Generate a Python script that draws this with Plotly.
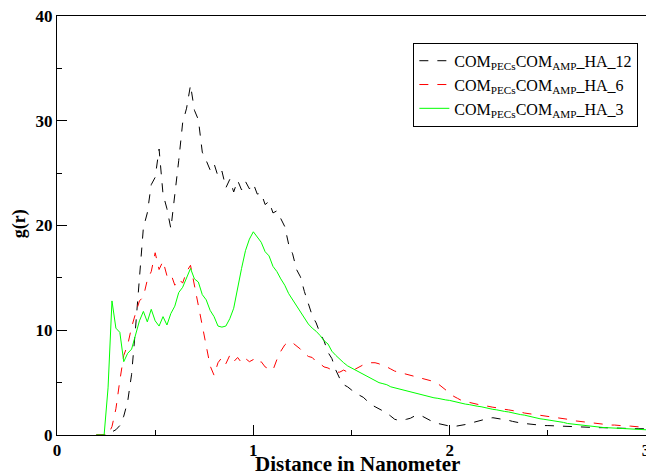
import plotly.graph_objects as go

# r grid (nm), 0.20 .. 3.00 step 0.02
r_nm = [round(0.20 + 0.02 * i, 2) for i in range(141)]

g_ha12 = [
    0, 0, 0, 0, 0.3, 0.5, 0.9, 1.8, 3.2, 5.8,
    10.2, 14.6, 19.8, 21.2, 23.9, 24.6, 27.3, 23.0, 21.6, 19.7,
    22.8, 26.2, 29.8, 31.2, 33.4, 31.0, 30.1, 27.0, 26.2, 25.3,
    25.9, 24.7, 25.2, 23.6, 24.4, 23.2, 24.3, 23.4, 24.2, 23.5,
    24.0, 23.0, 23.1, 22.0, 22.3, 21.2, 21.4, 20.6, 19.9, 18.2,
    17.3, 15.8, 15.1, 13.7, 12.6, 11.4, 10.7, 9.7, 9.0, 7.9,
    7.3, 6.2, 5.4, 4.8, 4.6, 4.3, 4.1, 3.8, 3.6, 3.2,
    2.9, 2.7, 2.5, 2.3, 2.1, 1.8, 1.5, 1.4, 1.4, 1.5,
    1.6, 1.8, 1.9, 1.8, 1.6, 1.4, 1.2, 1.1, 1.0, 0.9,
    0.85, 0.8, 0.85, 0.9, 1.0, 1.1, 1.2, 1.35, 1.45, 1.55,
    1.6, 1.65, 1.6, 1.55, 1.5, 1.4, 1.3, 1.2, 1.15, 1.1,
    1.05, 1.0, 0.95, 0.92, 0.9, 0.9, 0.88, 0.86, 0.85, 0.84,
    0.82, 0.8, 0.8, 0.78, 0.76, 0.75, 0.74, 0.72, 0.7, 0.7,
    0.68, 0.67, 0.66, 0.65, 0.64, 0.63, 0.62, 0.61, 0.6, 0.6,
    0.6,
]

g_ha6 = [
    0, 0, 0, 0, 0.8, 2.5, 5.2, 7.6, 8.6, 10.3,
    11.6, 12.8, 13.2, 14.8, 15.6, 17.4, 15.8, 16.6, 15.2, 15.4,
    14.3, 14.9, 14.5, 15.6, 16.2, 14.3, 12.6, 10.4, 8.6, 6.6,
    5.7, 6.9, 7.4, 6.8, 7.6, 7.0, 7.4, 6.9, 7.3, 7.0,
    7.2, 6.8, 7.0, 6.5, 6.3, 6.2, 7.2, 8.0, 8.6, 8.9,
    8.8, 8.5, 8.2, 7.8, 7.5, 7.4, 7.0, 6.8, 6.5, 6.4,
    6.2, 6.0, 6.0, 6.2, 6.0, 6.1, 6.3, 6.5, 6.7, 6.8,
    6.9, 6.9, 6.8, 6.6, 6.5, 6.3, 6.1, 6.0, 5.9, 5.8,
    5.7, 5.6, 5.5, 5.4, 5.3, 5.2, 5.1, 4.9, 4.6, 4.3,
    4.0, 3.7, 3.5, 3.3, 3.2, 3.1, 3.0, 2.9, 2.85, 2.8,
    2.7, 2.65, 2.6, 2.5, 2.45, 2.4, 2.35, 2.3, 2.2, 2.1,
    2.05, 2.0, 1.95, 1.85, 1.8, 1.75, 1.7, 1.65, 1.6, 1.55,
    1.5, 1.45, 1.35, 1.3, 1.25, 1.2, 1.15, 1.1, 1.05, 1.0,
    1.0, 0.95, 0.95, 0.9, 0.9, 0.85, 0.85, 0.8, 0.8, 0.75,
    0.75,
]

g_ha3 = [
    0, 0, 0, 4.5, 12.8, 10.2, 9.8, 7.0, 7.8, 8.2,
    9.6, 10.9, 11.8, 10.8, 12.0, 10.9, 10.4, 11.3, 10.5, 11.6,
    12.3, 13.6, 14.1, 15.1, 15.9, 14.9, 14.6, 13.4, 12.9, 11.9,
    11.3, 10.4, 10.3, 10.4, 11.1, 12.1, 14.1, 15.9, 17.6, 18.7,
    19.4, 18.9, 18.4, 17.5, 17.1, 16.1, 15.6, 14.9, 14.3, 13.5,
    12.9, 12.3, 11.8, 11.2, 10.6, 10.2, 9.9, 9.5, 9.0, 8.7,
    8.0, 7.6, 7.2, 6.9, 6.6, 6.4, 6.2, 6.0, 5.8, 5.6,
    5.4, 5.2, 5.0, 4.9, 4.8, 4.6, 4.5, 4.4, 4.3, 4.2,
    4.1, 4.0, 3.9, 3.8, 3.7, 3.6, 3.55, 3.5, 3.4, 3.35,
    3.3, 3.2, 3.1, 3.0, 2.95, 2.9, 2.8, 2.75, 2.7, 2.6,
    2.5, 2.45, 2.4, 2.3, 2.25, 2.2, 2.1, 2.0, 1.95, 1.9,
    1.8, 1.7, 1.65, 1.55, 1.5, 1.45, 1.4, 1.3, 1.25, 1.2,
    1.1, 1.05, 1.0, 0.95, 0.9, 0.85, 0.8, 0.78, 0.75, 0.72,
    0.7, 0.68, 0.65, 0.62, 0.6, 0.58, 0.56, 0.55, 0.53, 0.52,
    0.5,
]

series_names = [
    "COM<sub>PECs</sub>COM<sub>AMP</sub>_HA_12",
    "COM<sub>PECs</sub>COM<sub>AMP</sub>_HA_6",
    "COM<sub>PECs</sub>COM<sub>AMP</sub>_HA_3",
]
x_ticks = [0, 1, 2, 3]
y_ticks = [0, 10, 20, 30, 40]
x_title = "Distance in Nanometer"
y_title = "g(r)"

serif = "Liberation Serif"

fig = go.Figure()
styles = [("#000000", "dash"), ("#ff0000", "dash"), ("#00ff00", "solid")]
for name, ys, (col, dash) in zip(series_names, [g_ha12, g_ha6, g_ha3], styles):
    fig.add_trace(go.Scatter(x=r_nm, y=ys, mode="lines", name=name,
                             line=dict(color=col, width=1, dash=dash)))

axis_common = dict(
    showline=True, linecolor="black", linewidth=1, mirror=True,
    ticks="inside", ticklen=10, tickwidth=1, tickcolor="black",
    showgrid=False, zeroline=False, automargin=False,
    ticklabeloverflow="allow",
    tickfont=dict(family=serif, size=17, color="black", weight="bold"),
)

fig.update_layout(
    width=646, height=474,
    margin=dict(l=57, r=0, t=16, b=39),
    paper_bgcolor="white", plot_bgcolor="white",
    xaxis=dict(range=[0, 3], tickvals=x_ticks, ticktext=[str(v) for v in x_ticks],
               minor=dict(dtick=0.5, ticklen=5, ticks="inside", tickcolor="black"),
               **axis_common),
    yaxis=dict(range=[0, 40], tickvals=y_ticks, ticktext=[str(v) for v in y_ticks],
               minor=dict(dtick=5, ticklen=5, ticks="inside", tickcolor="black"),
               **axis_common),
    legend=dict(x=0.605, y=0.936, xanchor="left", yanchor="top",
                bordercolor="black", borderwidth=1, bgcolor="white",
                font=dict(family=serif, size=16, color="black"),
                itemwidth=30, tracegroupgap=0),
    showlegend=True,
    annotations=[
        dict(text=x_title, xref="paper", yref="paper", x=0.511, y=-0.069,
             xanchor="center", yanchor="middle", showarrow=False,
             font=dict(family=serif, size=21, color="black", weight="bold")),
        dict(text=y_title, xref="paper", yref="paper", x=-0.063, y=0.505,
             xanchor="center", yanchor="middle", showarrow=False, textangle=-90,
             font=dict(family=serif, size=18, color="black", weight="bold")),
    ],
)

fig.write_html("out.html")
